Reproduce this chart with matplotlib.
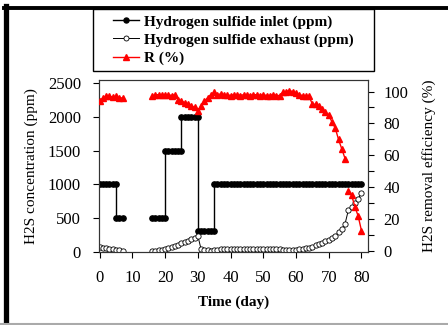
import numpy as np
import matplotlib
matplotlib.use("Agg")
import matplotlib.pyplot as plt
from matplotlib.lines import Line2D
from matplotlib.patches import Rectangle
from matplotlib.ticker import MultipleLocator

nan = np.nan

# ---- data ----
inlet_day = ([0, 1, 2, 3, 4, 5] + [5, 6, 7] + [nan] +
             [16, 17, 18, 19, 20] + [20, 21, 22, 23, 24, 25] + [25, 26, 27, 28, 29, 30] +
             [30, 31, 32, 33, 34, 35] +
             [35, 36, 37, 38, 39, 40, 41, 42, 43, 44, 45, 46, 47, 48, 49, 50, 51, 52, 53, 54,
              55, 56, 57, 58, 59, 60, 61, 62, 63, 64, 65, 66, 67, 68, 69, 70, 71, 72, 73, 74,
              75, 76, 77, 78, 79, 80])
inlet_ppm = ([1000, 1000, 1000, 1000, 1000, 1000] + [500, 500, 500] + [nan] +
             [500, 500, 500, 500, 500] + [1500, 1500, 1500, 1500, 1500, 1500] +
             [2000, 2000, 2000, 2000, 2000, 2000] +
             [310, 310, 310, 310, 310, 310] +
             [1000, 1000, 1000, 1000, 1000, 1000, 1000, 1000, 1000, 1000, 1000, 1000, 1000,
              1000, 1000, 1000, 1000, 1000, 1000, 1000, 1000, 1000, 1000, 1000, 1000, 1000,
              1000, 1000, 1000, 1000, 1000, 1000, 1000, 1000, 1000, 1000, 1000, 1000, 1000,
              1000, 1000, 1000, 1000, 1000, 1000, 1000])

exh_day = ([0, 1, 2, 3, 4, 5, 6, 7, nan] +
           [16, 17, 18, 19, 20, 21, 22, 23, 24, 25, 26, 27, 28, 29, 30] +
           [31, 32, 33, 34, 35, 36, 37, 38, 39, 40, 41, 42, 43, 44, 45, 46, 47, 48, 49,
            50, 51, 52, 53, 54, 55, 56, 57, 58, 59, 60, 61, 62, 63, 64, 65, 66, 67, 68,
            69, 70, 71, 72, 73, 74, 75, 76, 77, 78, 79, 80])
exh_ppm = ([75, 62, 55, 45, 40, 32, 25, 20, nan] +
           [20, 20, 25, 30, 50, 60, 80, 95, 110, 130, 150, 165, 185, 210, 240] +
           [40, 30, 25, 20, 30, 35, 40, 40, 45, 45, 40, 45, 45, 50, 45, 45, 50, 50, 45,
            50, 50, 45, 50, 45, 40, 35, 35, 30, 35, 35, 40, 45, 55, 65, 80, 100, 120, 140,
            160, 180, 200, 240, 290, 340, 420, 620, 660, 720, 790, 870])

r_day = ([0, 1, 2, 3, 4, 5, 6, 7, nan] +
         [16, 17, 18, 19, 20, 21, 22, 23, 24, 25, 26, 27, 28, 29, 30] +
         [31, 32, 33, 34, 35, 36, 37, 38, 39, 40, 41, 42, 43, 44, 45, 46, 47, 48, 49,
          50, 51, 52, 53, 54, 55, 56, 57, 58, 59, 60, 61, 62, 63, 64, 65, 66, 67, 68,
          69, 70, 71, 72, 73, 74, 75, nan, 76, 77, 78, 79, 80])
r_pct = ([94, 96, 97, 97, 96.5, 97, 96, 96, nan] +
         [97, 98, 98, 98, 98, 98, 97.5, 98, 95, 94, 93, 92, 91, 90, 88] +
         [91, 94, 96, 98, 99.5, 98, 98.5, 98, 98, 97.5, 98, 98, 97.5, 98, 98, 97.5, 98, 98, 97.5,
          98, 97.5, 97.5, 98, 97.5, 97.5, 99.5, 100, 100.5, 100, 99, 98, 97.5, 97, 97, 92, 92, 91, 89,
          87, 85, 81, 77, 70, 64, 58, nan, 38, 35, 28, 22, 13])

labels = ["Hydrogen sulfide inlet (ppm)", "Hydrogen sulfide exhaust (ppm)", "R (%)"]
left_yticks = [0, 500, 1000, 1500, 2000, 2500]
right_yticks = [0, 20, 40, 60, 80, 100]
xticks = [0, 10, 20, 30, 40, 50, 60, 70, 80]

plt.rcParams['font.family'] = ['Liberation Serif', 'DejaVu Serif']

fig = plt.figure(figsize=(4.48, 3.25), dpi=100)
ax = fig.add_axes([99/448, 1-252/325, (368-99)/448, (252-80)/325])
ax2 = ax.twinx()

ax.plot(inlet_day, inlet_ppm, color='black', lw=1.0, marker='o', ms=3.8,
        mfc='black', mec='black', zorder=3)
ax.plot(exh_day, exh_ppm, color='black', lw=0.7, marker='o', ms=3.8,
        mfc='white', mec='black', mew=0.6, zorder=3)
ax2.plot(r_day, r_pct, color='#ff0000', lw=1.0, marker='^', ms=4.4,
         mfc='#ff0000', mec='#ff0000', zorder=3)

ax.set_xlim(-0.2, 82)
ax.set_ylim(0, 2545)
ax2.set_ylim(-0.4, 107.2)
ax.set_xticks(xticks)
ax.set_yticks(left_yticks)
ax2.set_yticks(right_yticks)
ax2.yaxis.set_minor_locator(MultipleLocator(10))

for a in (ax, ax2):
    a.tick_params(direction='out', length=4, width=0.8, labelsize=12, colors='black')
    for s in a.spines.values():
        s.set_linewidth(0.8)
        s.set_color('#333333')
ax2.tick_params(which='minor', direction='out', length=4, width=0.8)
ax.tick_params(axis='x', pad=9)
ax.tick_params(axis='y', pad=9)
ax2.tick_params(axis='y', pad=7)

ax.set_xlabel("Time (day)", fontsize=11, fontweight='bold', labelpad=7)
ax.set_ylabel("H2S concentration (ppm)", fontsize=11, labelpad=7)
ax2.set_ylabel("H2S removal efficiency (%)", fontsize=11, labelpad=10)

# legend (above axes, own frame)
handles = [
    Line2D([], [], color='black', lw=1.0, marker='o', ms=3.6, mfc='black', mec='black'),
    Line2D([], [], color='black', lw=0.7, marker='o', ms=3.6, mfc='white', mec='black', mew=0.6),
    Line2D([], [], color='#ff0000', lw=1.0, marker='^', ms=4.2, mfc='#ff0000', mec='#ff0000'),
]
fig.add_artist(Rectangle((93/448, 1-71/325), (374-93)/448, (71-9)/325,
                         transform=fig.transFigure, fill=False, ec='black', lw=1.0))
fig.legend(handles, labels, loc='upper left', bbox_to_anchor=(113/448, 1-15/325),
           frameon=False, prop={'family': 'Liberation Serif', 'weight': 'bold', 'size': 11},
           handlelength=1.7, handletextpad=0.3, labelspacing=0.28, borderpad=0.0,
           borderaxespad=0.0)

# figure border
fig.add_artist(Line2D([5.5/448, 5.5/448], [0, 1-6/325], transform=fig.transFigure,
                      color='black', lw=3.8))
fig.add_artist(Line2D([3.5/448, 1], [1-7.5/325, 1-7.5/325], transform=fig.transFigure,
                      color='black', lw=2.8))
fig.add_artist(Line2D([0, 1], [1.5/325, 1.5/325], transform=fig.transFigure,
                      color='#aaaaaa', lw=1.5))

fig.savefig("out.png", dpi=100)
